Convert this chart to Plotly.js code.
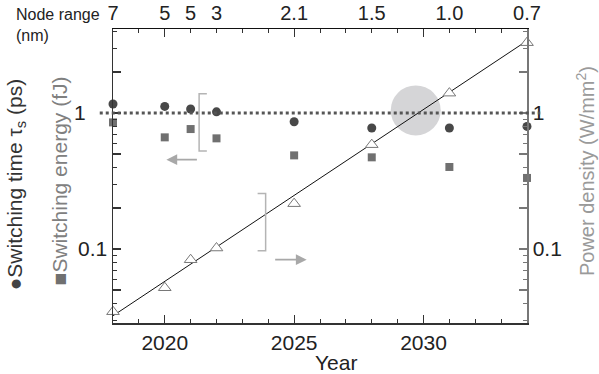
<!DOCTYPE html>
<html>
<head>
<meta charset="utf-8">
<script src="https://cdn.plot.ly/plotly-3.0.1.min.js"></script>
<style>html,body{margin:0;padding:0;background:#fff;}#chart{width:599px;height:374px;}</style>
</head>
<body>
<div id="chart"></div>
<script>
// ---- data ----
const years = [2018, 2020, 2021, 2022, 2025, 2028, 2031, 2034];
const nodeLabels = ['7', '5', '5', '3', '2.1', '1.5', '1.0', '0.7'];
const switchingTime = [1.165, 1.118, 1.07, 1.02, 0.863, 0.776, 0.776, 0.797];      // ps
const switchingEnergy = [0.853, 0.662, 0.762, 0.651, 0.488, 0.472, 0.401, 0.333];  // fJ
const powerDensity = [0.0346, 0.0519, 0.0834, 0.1017, 0.2155, 0.585, 1.40, 3.29];  // W/mm2
const trendYears = [2018, 2034];
const trendPower = [0.0323, 3.40];
const referenceLevel = 1;
const highlightYear = [2029.7];
const highlightValue = [1.045];
const yMajorVals = [0.05, 0.1, 0.2, 0.5, 1, 2];
const yLeftText = ['', '0.1', '', '', '', ''];
const yRightText = ['', '0.1', '', '', '1', ''];
const yMinorVals = [0.03, 0.04, 0.06, 0.07, 0.08, 0.09, 0.3, 0.4, 0.6, 0.7, 0.8, 0.9, 3, 4];
const xMajorVals = [2020, 2025, 2030];

const FONT = 'Liberation Sans, Arial, sans-serif';
const AX = '#333';

const traces = [
  { x: highlightYear, y: highlightValue, mode: 'markers', type: 'scatter',
    marker: { size: 50, color: '#d5d5d7', line: { width: 0 } }, hoverinfo: 'skip', showlegend: false },
  { x: trendYears, y: trendPower, mode: 'lines', type: 'scatter', xaxis: 'x2', yaxis: 'y2',
    line: { color: '#111', width: 1 }, showlegend: false },
  { x: years, y: powerDensity, mode: 'markers', type: 'scatter', xaxis: 'x2', yaxis: 'y2', cliponaxis: false,
    marker: { symbol: 'triangle-up', size: 11, color: '#fff', line: { color: '#777', width: 1 } }, showlegend: false },
  { x: years, y: switchingTime, mode: 'markers', type: 'scatter', cliponaxis: false,
    marker: { symbol: 'circle', size: 9, color: '#484848' }, showlegend: false },
  { x: years, y: switchingEnergy, mode: 'markers', type: 'scatter', cliponaxis: false,
    marker: { symbol: 'square', size: 8, color: '#707070' }, showlegend: false }
];

const yRange = [Math.log10(0.02857), Math.log10(4.146)];
const yPaper = v => (Math.log10(v) - yRange[0]) / (yRange[1] - yRange[0]);
const yCommon = {
  type: 'log', range: yRange, showgrid: false, zeroline: false,
  showline: true, linecolor: AX, linewidth: 1.5,
  tickmode: 'array', tickvals: yMajorVals,
  ticks: 'inside', ticklen: 8, tickwidth: 1.2, tickcolor: AX,
  minor: { tickmode: 'array', tickvals: yMinorVals, ticks: 'inside', ticklen: 4, tickwidth: 1, tickcolor: AX },
  tickfont: { family: FONT, size: 21, color: '#222' }
};

const layout = {
  width: 599, height: 374,
  margin: { l: 113, r: 72, t: 29, b: 51 },
  paper_bgcolor: '#fff', plot_bgcolor: '#fff',
  font: { family: FONT, size: 21, color: '#222' },
  showlegend: false,
  xaxis: {
    range: [2018, 2034], showgrid: false, zeroline: false,
    showline: true, linecolor: AX, linewidth: 1.5, mirror: 'ticks',
    tickmode: 'array', tickvals: xMajorVals,
    ticks: 'inside', ticklen: 8, tickwidth: 1.2, tickcolor: AX,
    minor: { dtick: 1, tick0: 2018, ticks: 'inside', ticklen: 4, tickwidth: 1, tickcolor: AX },
    tickfont: { family: FONT, size: 21, color: '#222' }
  },
  xaxis2: {
    overlaying: 'x', side: 'top', anchor: 'y2', range: [2018, 2034],
    showgrid: false, zeroline: false, showline: true, linecolor: '#111', linewidth: 1.5,
    tickmode: 'array', tickvals: years, ticktext: nodeLabels, ticks: '',
    tickfont: { family: FONT, size: 20, color: '#222' }
  },
  yaxis: Object.assign({}, yCommon, { ticktext: yLeftText, side: 'left' }),
  yaxis2: Object.assign({}, yCommon, {
    ticktext: yRightText, side: 'right', overlaying: 'y', anchor: 'x2',
    linecolor: '#777', tickcolor: '#777',
    minor: { tickmode: 'array', tickvals: yMinorVals, ticks: 'inside', ticklen: 4, tickwidth: 1, tickcolor: '#777' }
  }),
  shapes: [
    { type: 'line', xref: 'paper', yref: 'paper', x0: -0.032, x1: 1.032,
      y0: yPaper(referenceLevel), y1: yPaper(referenceLevel), layer: 'above',
      line: { color: '#555', width: 3, dash: 'dot' } },
    { type: 'path', xref: 'paper', yref: 'paper',
      path: 'M 0.2267 0.780 L 0.208 0.780 L 0.208 0.585 L 0.2267 0.585',
      line: { color: '#b4b4b4', width: 1.5 } },
    { type: 'path', xref: 'paper', yref: 'paper',
      path: 'M 0.3493 0.4408 L 0.3687 0.4408 L 0.3687 0.2459 L 0.3493 0.2459',
      line: { color: '#b4b4b4', width: 1.5 } }
  ],
  annotations: [
    { xref: 'paper', yref: 'paper', x: -0.238, y: 1.085, xanchor: 'left', yanchor: 'top', align: 'left',
      text: 'Node range<br>(nm)', showarrow: false, font: { family: FONT, size: 16, color: '#222' } },
    { xref: 'paper', yref: 'paper', x: -0.0806, y: yPaper(1), xanchor: 'center', yanchor: 'middle',
      text: '1', showarrow: false, font: { family: FONT, size: 21, color: '#222' } },
    { xref: 'paper', yref: 'paper', x: -0.2354, y: 0.470, xanchor: 'center', yanchor: 'middle', textangle: -90,
      text: '<span style="color:#444">\u25CF</span>Switching time \u03C4<sub>s</sub> (ps)', showarrow: false,
      font: { family: FONT, size: 21, color: '#333' } },
    { xref: 'paper', yref: 'paper', x: -0.129, y: 0.484, xanchor: 'center', yanchor: 'middle', textangle: -90,
      text: '<span style="color:#707070">\u25A0</span>Switching energy (fJ)', showarrow: false,
      font: { family: FONT, size: 21, color: '#808080' } },
    { xref: 'paper', yref: 'paper', x: 1.141, y: 0.518, xanchor: 'center', yanchor: 'middle', textangle: -90,
      text: 'Power density (W/mm<sup>2</sup>)', showarrow: false,
      font: { family: FONT, size: 20, color: '#9a9a9a' } },
    { xref: 'paper', yref: 'paper', x: 0.539, y: -0.135, xanchor: 'center', yanchor: 'middle',
      text: 'Year', showarrow: false, font: { family: FONT, size: 21, color: '#222' } },
    { xref: 'paper', yref: 'paper', x: 0.129, y: 0.5554, text: '', showarrow: true,
      ax: 32, ay: 0, arrowhead: 2, arrowsize: 1.2, arrowwidth: 1.8, arrowcolor: '#a8a8a8' },
    { xref: 'paper', yref: 'paper', x: 0.4678, y: 0.2153, text: '', showarrow: true,
      ax: -33, ay: 0, arrowhead: 2, arrowsize: 1.2, arrowwidth: 1.8, arrowcolor: '#a8a8a8' }
  ]
};

Plotly.newPlot('chart', traces, layout, { displayModeBar: false, staticPlot: true });
</script>
</body>
</html>
